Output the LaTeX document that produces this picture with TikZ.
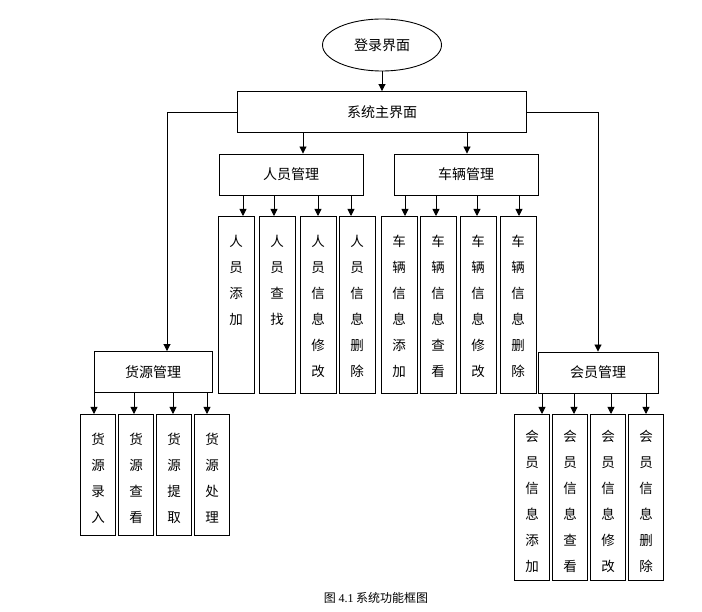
\documentclass[tikz,border=0pt]{standalone}
\usepackage{fontspec}
\setmainfont{Liberation Serif}
\newfontfamily\cjk{Noto Sans CJK SC}
\usetikzlibrary{shapes.geometric,arrows.meta}
\begin{document}
\begin{tikzpicture}[x=1pt,y=-1pt,line width=0.9pt,
  every node/.style={font=\cjk\fontsize{14}{16}\selectfont},
  box/.style={draw,rectangle,inner sep=0pt,minimum height=41},
  leaf/.style={draw,rectangle,inner sep=0pt,anchor=north,minimum width=36},
  leaftext/.style={anchor=north,align=center,inner sep=0pt,yshift=#1,font=\cjk\fontsize{13.5}{26}\selectfont},
  leaftext/.default=-19pt,
  arr/.style={-{Triangle[length=7pt,width=7pt]}}]
\useasboundingbox (0,0) rectangle (702,612);

\node[draw,ellipse,inner sep=0pt,minimum width=119,minimum height=52] (login) at (382,45) {登录界面};
\node[box,minimum width=289] (main) at (382,112) {系统主界面};
\node[box,minimum width=144] (ry) at (291,174.5) {人员管理};
\node[box,minimum width=144] (cl) at (466,174.5) {车辆管理};
\node[box,minimum width=118] (hy) at (153,372) {货源管理};
\node[box,minimum width=120] (hu) at (598,372.5) {会员管理};

\node[leaf,minimum height=177,label={[leaftext]north:人\\员\\添\\加}] (ry1) at (236,216) {};
\node[leaf,minimum height=177,label={[leaftext]north:人\\员\\查\\找}] (ry2) at (277,216) {};
\node[leaf,minimum height=177,label={[leaftext]north:人\\员\\信\\息\\修\\改}] (ry3) at (318,216) {};
\node[leaf,minimum height=177,label={[leaftext]north:人\\员\\信\\息\\删\\除}] (ry4) at (357,216) {};

\node[leaf,minimum height=177,label={[leaftext]north:车\\辆\\信\\息\\添\\加}] (cl1) at (399,216) {};
\node[leaf,minimum height=177,label={[leaftext]north:车\\辆\\信\\息\\查\\看}] (cl2) at (438,216) {};
\node[leaf,minimum height=177,label={[leaftext]north:车\\辆\\信\\息\\修\\改}] (cl3) at (478,216) {};
\node[leaf,minimum height=177,label={[leaftext]north:车\\辆\\信\\息\\删\\除}] (cl4) at (518,216) {};

\node[leaf,minimum width=35,minimum height=121,label={[leaftext]north:货\\源\\录\\入}] (hy1) at (98,414) {};
\node[leaf,minimum width=35,minimum height=121,label={[leaftext]north:货\\源\\查\\看}] (hy2) at (136,414) {};
\node[leaf,minimum width=35,minimum height=121,label={[leaftext]north:货\\源\\提\\取}] (hy3) at (174,414) {};
\node[leaf,minimum width=35,minimum height=121,label={[leaftext]north:货\\源\\处\\理}] (hy4) at (212,414) {};

\node[leaf,minimum width=35,minimum height=166,label={[leaftext=-16pt]north:会\\员\\信\\息\\添\\加}] (hu1) at (532,414) {};
\node[leaf,minimum width=35,minimum height=166,label={[leaftext=-16pt]north:会\\员\\信\\息\\查\\看}] (hu2) at (570,414) {};
\node[leaf,minimum width=35,minimum height=166,label={[leaftext=-16pt]north:会\\员\\信\\息\\修\\改}] (hu3) at (608,414) {};
\node[leaf,minimum width=35,minimum height=166,label={[leaftext=-16pt]north:会\\员\\信\\息\\删\\除}] (hu4) at (646,414) {};

\node (cap) at (376,598) {\fontsize{12}{14}\selectfont 图 {\rmfamily 4.1} 系统功能框图};

\draw[arr] (login) -- (main);
\draw[arr] ([xshift=12pt]ry.north |- main.south) -- ([xshift=12pt]ry.north);
\draw[arr] ([xshift=1pt]cl.north |- main.south) -- ([xshift=1pt]cl.north);
\draw[arr] (main.west) -| ([xshift=14pt]hy.north);
\draw[arr] (main.east) -| (hu.north);

\foreach \leaf/\dx in {ry1/7,ry2/-3,ry3/0,ry4/-6}
  \draw[arr] ([xshift=\dx pt]\leaf.north |- ry.south) -- ([xshift=\dx pt]\leaf.north);
\foreach \leaf/\dx in {cl1/6,cl2/-2,cl3/-1,cl4/1}
  \draw[arr] ([xshift=\dx pt]\leaf.north |- cl.south) -- ([xshift=\dx pt]\leaf.north);
\foreach \leaf/\dx in {hy1/-4,hy2/-2,hy3/-1,hy4/-5}
  \draw[arr] ([xshift=\dx pt]\leaf.north |- hy.south) -- ([xshift=\dx pt]\leaf.north);
\foreach \leaf/\dx in {hu1/10,hu2/4,hu3/3,hu4/0}
  \draw[arr] ([xshift=\dx pt]\leaf.north |- hu.south) -- ([xshift=\dx pt]\leaf.north);
\end{tikzpicture}
\end{document}
